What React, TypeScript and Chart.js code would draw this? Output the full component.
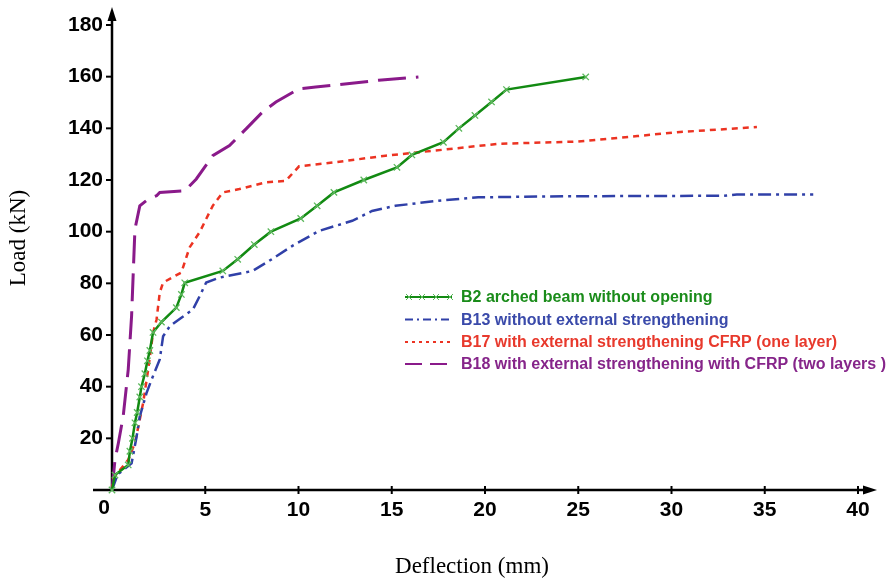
import React, { useEffect, useRef } from "react";
import { Chart, registerables } from "chart.js";
Chart.register(...registerables);

// ---- data (deflection mm, load kN) ----
const b2Defl = [0, 0.16, 0.87, 0.96, 1.1, 1.23, 1.35, 1.49, 1.58, 1.76, 1.9, 2.03, 2.2, 2.65, 3.45, 3.72, 3.9, 5.94, 6.74, 7.63, 8.52, 10.12, 11.0, 11.9, 13.5, 15.28, 16.08, 17.77, 18.6, 19.46, 20.35, 21.15, 25.4];
const b2Load = [0, 5.8, 9.7, 15, 20, 26, 30, 36, 40, 45, 50, 54, 61, 65, 70.6, 75.7, 80.2, 84.8, 89.3, 95, 100, 105.1, 110, 115.2, 120, 124.9, 129.7, 134.6, 140, 145, 150.2, 155, 159.9];

const b13Defl = [0, 0.3, 1.05, 1.32, 1.49, 1.85, 2.12, 2.56, 2.74, 3.1, 3.72, 4.34, 4.7, 5.05, 5.76, 7.54, 8.43, 9.67, 11.1, 12.88, 13.94, 15.19, 17.5, 19.64, 24.26, 32.8, 33.5, 37.6];
const b13Load = [0, 6, 10.3, 20.7, 28.5, 37.5, 42.7, 50.5, 59.5, 63.4, 66.7, 69.9, 75, 80.3, 82.2, 84.8, 88.7, 94.5, 100.3, 104.2, 108, 110, 112, 113.3, 113.7, 113.9, 114.4, 114.4];

const b17Defl = [0, 0.07, 0.87, 1.23, 1.67, 1.94, 2.2, 2.39, 2.56, 2.74, 3.72, 4.16, 4.7, 5.4, 5.94, 6.83, 8.26, 9.32, 10.03, 12, 14.66, 17.86, 20.7, 24.97, 28.17, 30.3, 34.58];
const b17Load = [0, 4.6, 11.7, 18.2, 33.7, 46.6, 60.8, 66, 76.4, 80.3, 84.2, 93.9, 99.8, 110, 115.2, 116.5, 119.1, 119.7, 125.3, 126.9, 129.4, 131.8, 134, 134.9, 137, 138.5, 140.5];

const b18Defl = [0, 0.16, 0.34, 0.6, 0.87, 1.05, 1.14, 1.23, 1.49, 1.94, 2.39, 2.56, 3.9, 4.52, 5.4, 6.3, 7.19, 8.07, 8.79, 10.03, 10.92, 12.17, 14.3, 16.43];
const b18Load = [0, 11.7, 18.1, 28.5, 46.6, 67.3, 84.2, 101, 110, 112.6, 113.9, 115.2, 115.8, 120.4, 129.4, 133.3, 139.8, 146.3, 150.2, 155.3, 156, 156.9, 158.6, 159.9];

const seriesLabels = [
  "B2 arched beam without opening",
  "B13 without external strengthening",
  "B17 with external strengthening CFRP (one layer)",
  "B18 with external strengthening with CFRP (two layers )",
];

const xTicks = [0, 5, 10, 15, 20, 25, 30, 35, 40];
const yTicks = [0, 20, 40, 60, 80, 100, 120, 140, 160, 180];

const pts = (xs: number[], ys: number[]) => xs.map((x, i) => ({ x, y: ys[i] }));

const GREEN = "#128a12";
const GREEN_MK = "#5cb85c";
const BLUE = "#3040a8";
const RED = "#ec3322";
const PURPLE = "#8a1a8a";

const legendStyles = [
  { color: GREEN, text: "#1a8c1a", dash: [] as number[], width: 1.8, markers: true },
  { color: BLUE, text: "#3a4aaa", dash: [8, 4, 2, 4], width: 1.8, markers: false },
  { color: RED, text: "#e8392c", dash: [3, 4], width: 1.8, markers: false },
  { color: PURPLE, text: "#86258a", dash: [17, 8], width: 1.8, markers: false },
];

const decor = {
  id: "decor",
  beforeDatasetsDraw(chart: any) {
    const ctx = chart.ctx;
    const xs = chart.scales.x;
    const ys = chart.scales.y;
    const x0 = xs.getPixelForValue(0);
    const y0 = ys.getPixelForValue(0);
    ctx.save();
    ctx.strokeStyle = "#000";
    ctx.fillStyle = "#000";
    ctx.lineWidth = 2.5;
    // x axis
    ctx.beginPath();
    ctx.moveTo(93, y0);
    ctx.lineTo(866, y0);
    ctx.stroke();
    ctx.beginPath();
    ctx.moveTo(877, y0);
    ctx.lineTo(863, y0 - 4.5);
    ctx.lineTo(863, y0 + 4.5);
    ctx.closePath();
    ctx.fill();
    // y axis
    ctx.beginPath();
    ctx.moveTo(x0, y0);
    ctx.lineTo(x0, 18);
    ctx.stroke();
    ctx.beginPath();
    ctx.moveTo(x0, 7);
    ctx.lineTo(x0 - 4.5, 21);
    ctx.lineTo(x0 + 4.5, 21);
    ctx.closePath();
    ctx.fill();
    // ticks
    ctx.lineWidth = 2;
    xTicks.forEach((v) => {
      if (v === 0) return;
      const p = xs.getPixelForValue(v);
      ctx.beginPath();
      ctx.moveTo(p, y0 - 4);
      ctx.lineTo(p, y0 + 4);
      ctx.stroke();
    });
    yTicks.forEach((v) => {
      if (v === 0) return;
      const p = ys.getPixelForValue(v);
      ctx.beginPath();
      ctx.moveTo(x0 - 6, p);
      ctx.lineTo(x0, p);
      ctx.stroke();
    });
    ctx.restore();
  },
  afterDraw(chart: any) {
    const ctx = chart.ctx;
    const xs = chart.scales.x;
    const ys = chart.scales.y;
    ctx.save();
    // origin label
    ctx.fillStyle = "#000";
    ctx.font = "bold 21px 'Liberation Sans', Arial, sans-serif";
    ctx.textAlign = "center";
    ctx.textBaseline = "middle";
    ctx.fillText("0", xs.getPixelForValue(0) - 8, ys.getPixelForValue(0) + 18);
    // axis titles
    ctx.font = "23px 'Liberation Serif', 'Times New Roman', serif";
    ctx.fillText("Deflection (mm)", 472, 567);
    ctx.save();
    ctx.translate(19, 238);
    ctx.rotate(-Math.PI / 2);
    ctx.fillText("Load (kN)", 0, 0);
    ctx.restore();
    // legend
    const rowY = [297, 319.5, 342, 364];
    const lx0 = 405;
    const lx1 = 452;
    ctx.font = "bold 16px 'Liberation Sans', Arial, sans-serif";
    ctx.textAlign = "left";
    legendStyles.forEach((s, i) => {
      const y = rowY[i];
      ctx.strokeStyle = s.color;
      ctx.lineWidth = s.width;
      ctx.setLineDash(s.dash);
      ctx.beginPath();
      ctx.moveTo(lx0, y);
      ctx.lineTo(lx1, y);
      ctx.stroke();
      ctx.setLineDash([]);
      if (s.markers) {
        ctx.strokeStyle = GREEN_MK;
        ctx.lineWidth = 1;
        [409, 422, 436, 450].forEach((mx) => {
          ctx.beginPath();
          ctx.moveTo(mx - 3, y - 3);
          ctx.lineTo(mx + 3, y + 3);
          ctx.moveTo(mx - 3, y + 3);
          ctx.lineTo(mx + 3, y - 3);
          ctx.stroke();
        });
      }
      ctx.fillStyle = s.text;
      ctx.fillText(seriesLabels[i], 461, y + 1);
    });
    ctx.restore();
  },
};

export default function App() {
  const ref = useRef<HTMLCanvasElement | null>(null);
  useEffect(() => {
    if (!ref.current) return;
    const tickFont = { family: "'Liberation Sans', Arial, sans-serif", size: 21, weight: "bold" as const };
    const chart = new Chart(ref.current, {
      type: "line",
      data: {
        datasets: [
          {
            label: seriesLabels[0],
            data: pts(b2Defl, b2Load),
            borderColor: GREEN,
            borderWidth: 2.5,
            pointStyle: "crossRot",
            pointRadius: 4.5,
            pointBorderColor: GREEN_MK,
            pointBorderWidth: 1.3,
            pointBackgroundColor: GREEN_MK,
            fill: false,
          },
          {
            label: seriesLabels[1],
            data: pts(b13Defl, b13Load),
            borderColor: BLUE,
            borderWidth: 2.5,
            borderDash: [13, 5, 3, 5],
            pointRadius: 0,
            fill: false,
          },
          {
            label: seriesLabels[2],
            data: pts(b17Defl, b17Load),
            borderColor: RED,
            borderWidth: 2.5,
            borderDash: [6, 5],
            pointRadius: 0,
            fill: false,
          },
          {
            label: seriesLabels[3],
            data: pts(b18Defl, b18Load),
            borderColor: PURPLE,
            borderWidth: 3,
            borderDash: [28, 10],
            pointRadius: 0,
            fill: false,
          },
        ],
      },
      options: {
        responsive: false,
        animation: false,
        clip: false,
        layout: { padding: { left: 0, right: 32, top: 25, bottom: 0 } },
        plugins: { legend: { display: false }, tooltip: { enabled: false } },
        elements: { line: { tension: 0 } },
        scales: {
          x: {
            type: "linear",
            min: 0,
            max: 40,
            afterBuildTicks: (s: any) => {
              s.ticks = xTicks.map((v) => ({ value: v }));
            },
            ticks: {
              font: tickFont,
              color: "#000",
              padding: 8,
              maxRotation: 0,
              autoSkip: false,
              callback: (v: any) => (v === 0 ? "" : String(v)),
            },
            grid: { display: false, drawTicks: false },
            border: { display: false },
            afterFit: (s: any) => {
              s.height = 90;
            },
          },
          y: {
            type: "linear",
            min: 0,
            max: 180,
            afterBuildTicks: (s: any) => {
              s.ticks = yTicks.map((v) => ({ value: v }));
            },
            ticks: {
              font: tickFont,
              color: "#000",
              padding: 9,
              autoSkip: false,
              callback: (v: any) => (v === 0 ? "" : String(v)),
            },
            grid: { display: false, drawTicks: false },
            border: { display: false },
            afterFit: (s: any) => {
              s.width = 112;
            },
          },
        },
      } as any,
      plugins: [decor],
    });
    return () => chart.destroy();
  }, []);
  return (
    <div style={{ position: "absolute", left: 0, top: 0, width: 890, height: 580, background: "#fff" }}>
      <canvas ref={ref} width={890} height={580} style={{ width: 890, height: 580 }} />
    </div>
  );
}
